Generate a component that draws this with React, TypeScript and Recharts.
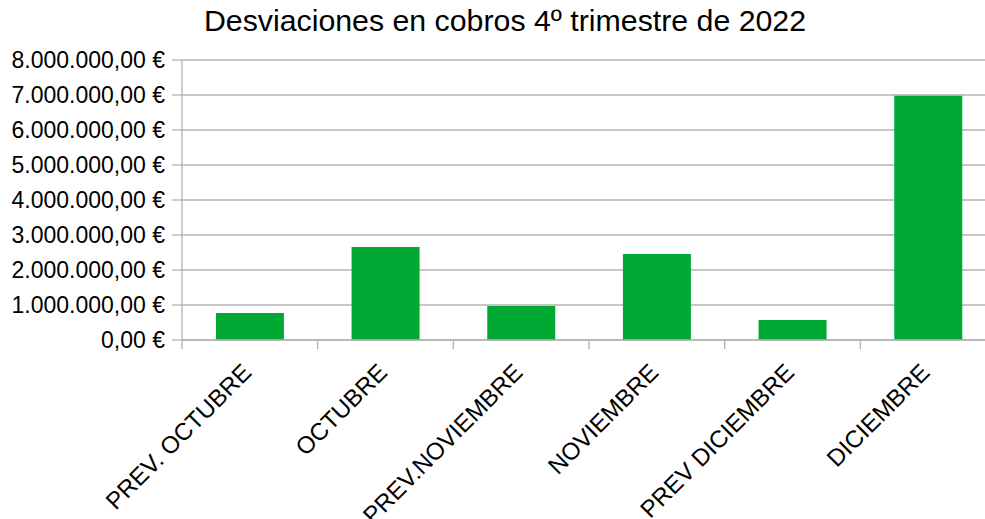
import React from "react";
import { BarChart, Bar, XAxis, YAxis, CartesianGrid } from "recharts";

const categories = [
  "PREV. OCTUBRE",
  "OCTUBRE",
  "PREV.NOVIEMBRE",
  "NOVIEMBRE",
  "PREV DICIEMBRE",
  "DICIEMBRE",
];
const cobros = [770000, 2660000, 970000, 2460000, 570000, 6980000];
const yTicks = [0, 1000000, 2000000, 3000000, 4000000, 5000000, 6000000, 7000000, 8000000];

const data = categories.map((name, i) => ({ name, value: cobros[i] }));

const FONT = "'Liberation Sans', Arial, sans-serif";
const GRID = "#b3b3b3";

const euro = (v: number) => {
  const ent = Math.round(v)
    .toString()
    .replace(/\B(?=(\d{3})+(?!\d))/g, ".");
  return `${ent},00 €`;
};

// rotated label + tick marks on the category boundaries
const RotTick = (props: any) => {
  const { x, y, payload, index } = props;
  const half = payload?.offset ?? 0;
  const last = index === categories.length - 1;
  return (
    <g>
      <line x1={x - half} x2={x - half} y1={y} y2={y + 9} stroke={GRID} strokeWidth={1.3} />
      {last && (
        <line x1={x + half} x2={x + half} y1={y} y2={y + 9} stroke={GRID} strokeWidth={1.3} />
      )}
      <g transform={`translate(${x + 3},${y + 34})`}>
        <text
          x={0}
          y={0}
          textAnchor="end"
          transform="rotate(-45)"
          fontSize={24}
          fontFamily={FONT}
          fill="#000"
        >
          {payload.value}
        </text>
      </g>
    </g>
  );
};

export default function App() {
  return (
    <div
      style={{
        position: "absolute",
        left: 0,
        top: 0,
        width: 985,
        height: 519,
        overflow: "hidden",
        background: "#fff",
      }}
    >
      <div
        style={{
          position: "absolute",
          left: 0,
          top: 1,
          width: 1010,
          textAlign: "center",
          fontFamily: FONT,
          fontSize: 30.3,
          lineHeight: "40px",
          color: "#000",
          zIndex: 2,
        }}
      >
        Desviaciones en cobros 4º trimestre de 2022
      </div>
      <BarChart
        width={1000}
        height={519}
        data={data}
        margin={{ top: 60, right: 4, bottom: 0, left: 0 }}
        barCategoryGap="25%"
      >
        <CartesianGrid horizontal vertical={false} stroke={GRID} strokeWidth={1.3} />
        <XAxis
          dataKey="name"
          interval={0}
          tick={<RotTick />}
          tickLine={false}
          tickSize={0}
          tickMargin={0}
          axisLine={{ stroke: GRID, strokeWidth: 1.3 }}
          height={179}
        />
        <YAxis
          domain={[0, 8000000]}
          ticks={yTicks}
          width={182}
          tickFormatter={euro}
          tickSize={10}
          tickMargin={7}
          tick={{ fontSize: 23, fontFamily: FONT, fill: "#000" }}
          tickLine={{ stroke: GRID, strokeWidth: 1.3 }}
          axisLine={{ stroke: GRID, strokeWidth: 1.3 }}
        />
        <Bar dataKey="value" fill="#00a933" isAnimationActive={false} />
      </BarChart>
    </div>
  );
}
